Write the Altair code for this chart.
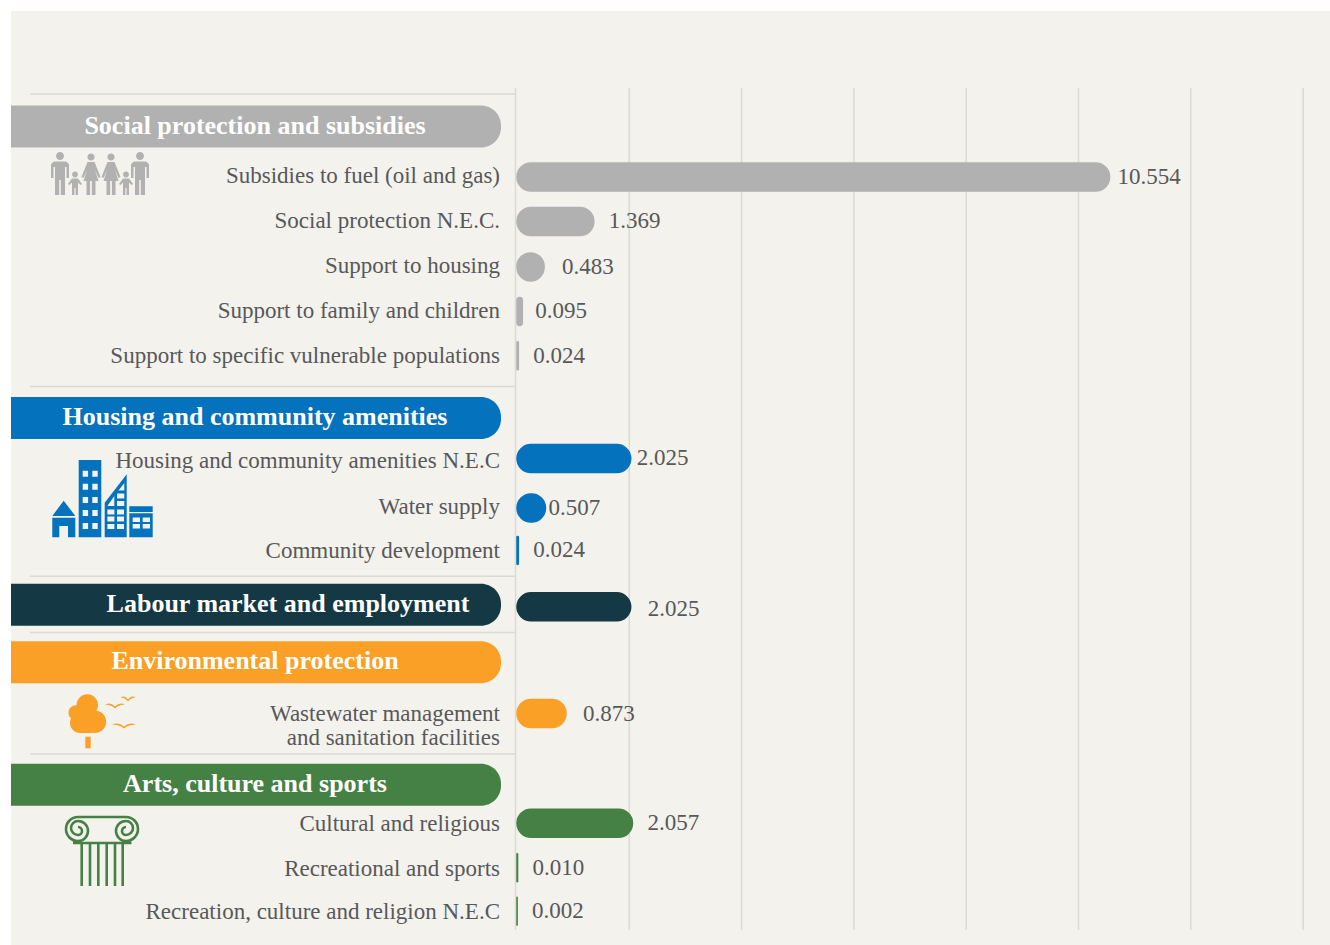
import altair as alt
import pandas as pd

# Values by spending item
groups = ["Social protection and subsidies", "Housing and community amenities",
          "Labour market and employment", "Environmental protection",
          "Arts, culture and sports"]
group_colors = ["#b1b1b1", "#0472bc", "#143844", "#faa026", "#458144"]
items = ["Subsidies to fuel (oil and gas)", "Social protection N.E.C.", "Support to housing",
         "Support to family and children", "Support to specific vulnerable populations",
         "Housing and community amenities N.E.C", "Water supply", "Community development",
         "", "Wastewater management\nand sanitation facilities",
         "Cultural and religious", "Recreational and sports", "Recreation, culture and religion N.E.C"]
item_groups = [0, 0, 0, 0, 0, 1, 1, 1, 2, 3, 4, 4, 4]
values = [10.554, 1.369, 0.483, 0.095, 0.024, 2.025, 0.507, 0.024, 2.025, 0.873, 2.057, 0.010, 0.002]
tick_values = [2, 4, 6, 8, 10, 12, 14]

# Page layout, in pixels
PAGE_W, PAGE_H = 1330, 945
PLOT_TOP, PLOT_BOTTOM = 88, 930
ZERO_X, UNIT = 517.0, 56.15
bar_rows = [173, 218, 264, 309, 354, 458, 508, 551, 608, 716, 827, 872, 916]
name_rows = [172, 218, 263, 309, 354, 460, 507, 551, 608, 716, 828, 873, 917]
value_rows = [173, 218, 264, 309, 354, 457, 508, 550, 610, 716, 827, 872, 916]
value_gaps = [8, 15, 18, 13, 15, 6, 3, 15, 17, 17, 15, 15, 15]
header_rows = [122, 417, 606, 664, 788]
rule_rows = [89, 385, 577, 634, 757]

PANEL = "#f3f2ec"
TEXT = "#58585a"
GRID = "#dbdbd6"
FONT = "Liberation Sans Narrow"

rows = pd.DataFrame({
    "item": items,
    "group": [groups[i] for i in item_groups],
    "value": values,
    "bar_y": bar_rows,
    "name_y": name_rows,
    "value_y": value_rows,
    "label_x": [v + g / UNIT for v, g in zip(values, value_gaps)],
})
headers = pd.DataFrame({"group": groups, "y": header_rows})
headers["text_x"] = [288 if g.startswith("Labour") else 255 for g in groups]
ticks = pd.DataFrame({"tick": tick_values})
seps = pd.DataFrame({"y": rule_rows})

x_scale = alt.Scale(domain=[-ZERO_X / UNIT, (PAGE_W - ZERO_X) / UNIT], range=[0, PAGE_W], nice=False, zero=False)
y_scale = alt.Scale(domain=[PLOT_TOP, PLOT_BOTTOM], range=[0, PLOT_BOTTOM - PLOT_TOP], nice=False, zero=False)
color = alt.Color("group:N", scale=alt.Scale(domain=groups, range=group_colors), legend=None)
h = PLOT_BOTTOM - PLOT_TOP


def y_enc(field):
    return alt.Y(f"{field}:Q", scale=y_scale, axis=None)


# Icon drawing helpers; coordinates are page pixels (the symbol scale is 1:1)
def box(x0, y0, x1, y1):
    return f"M{x0},{y0}L{x1},{y0}L{x1},{y1}L{x0},{y1}Z"


def hole(x0, y0, x1, y1):
    return f"M{x0},{y0}L{x0},{y1}L{x1},{y1}L{x1},{y0}Z"


def disc(cx, cy, r):
    return f"M{cx - r},{cy}A{r},{r} 0 1 1 {cx + r},{cy}A{r},{r} 0 1 1 {cx - r},{cy}Z"


def poly(*pts):
    return "M" + "L".join(f"{a},{b}" for a, b in pts) + "Z"


def man(cx):
    return (disc(cx, 156, 4) + poly((cx - 6, 161.5), (cx + 6, 161.5), (cx + 9, 164), (cx + 9, 178),
                                    (cx + 6.5, 178), (cx + 6.5, 167), (cx + 5, 167), (cx + 5, 195),
                                    (cx + 0.8, 195), (cx + 0.8, 180), (cx - 0.8, 180), (cx - 0.8, 195),
                                    (cx - 5, 195), (cx - 5, 167), (cx - 6.5, 167), (cx - 6.5, 178),
                                    (cx - 9, 178), (cx - 9, 164)))


def woman(cx):
    return (disc(cx, 157, 3.6) + poly((cx - 3.5, 162), (cx + 3.5, 162), (cx + 9.5, 177), (cx + 7.5, 178),
                                      (cx + 4, 170), (cx + 7.5, 181), (cx + 4.5, 181), (cx + 4.5, 195),
                                      (cx + 0.9, 195), (cx + 0.9, 181), (cx - 0.9, 181), (cx - 0.9, 195),
                                      (cx - 4.5, 195), (cx - 4.5, 181), (cx - 7.5, 181), (cx - 4, 170),
                                      (cx - 7.5, 178), (cx - 9.5, 177)))


def kid(cx):
    return (disc(cx, 174.5, 2.9) + poly((cx - 3, 178.5), (cx + 3, 178.5), (cx + 7, 184), (cx + 5.5, 185),
                                        (cx + 3, 182.5), (cx + 3, 195), (cx + 0.6, 195), (cx + 0.6, 188),
                                        (cx - 0.6, 188), (cx - 0.6, 195), (cx - 3, 195), (cx - 3, 182.5),
                                        (cx - 5.5, 185), (cx - 7, 184)))


family_icon = man(60) + kid(75) + woman(91) + woman(111) + kid(126) + man(140)

tower_windows = "".join(hole(a, b, a + 5.4, b + 6) for b in (470.7, 483.7, 497, 510, 523) for a in (82.7, 92.3))
mid_windows = "".join(hole(a, b, a + 7, b + 5) for b in (509.5, 516.5, 524) for a in (107.4, 117))
mid_windows += hole(117, 493.5, 124.3, 498.5) + hole(117, 501, 124.3, 506)
mid_windows += poly((107.4, 506), (114.3, 506), (114.3, 496))
mid_windows += poly((118.5, 490.5), (124.3, 490.5), (124.3, 483))
shop_windows = "".join(hole(a, b, a + 7.3, b + 4.6) for b in (517.5, 524) for a in (132.7, 142.7))
buildings_icon = (
    poly((52.3, 516), (63.7, 500.7), (75.3, 516))
    + box(52.3, 517.7, 75.3, 537.3) + hole(59.3, 526, 68, 537.3)
    + box(78.7, 460, 101.3, 537.3) + tower_windows
    + poly((104.7, 502.7), (126.7, 474.3), (126.7, 537.3), (104.7, 537.3)) + mid_windows
    + box(129.3, 506.3, 152.7, 512) + box(129.3, 513.3, 152.7, 537.3) + shop_windows
)


def bird(cx, cy, w):
    return (f"M{cx - w},{cy}Q{cx - w / 2},{cy - 3.5} {cx},{cy + 1.5}Q{cx + w / 2},{cy - 3.5} {cx + w},{cy}"
            f"Q{cx + w / 2},{cy - 1.2} {cx},{cy + 3.5}Q{cx - w / 2},{cy - 1.2} {cx - w},{cy}Z")


tree_icon = (disc(87.3, 705, 10.7) + disc(76, 712.7, 7.5) + disc(80, 723, 10) + disc(95, 721.7, 11.2)
             + box(80, 715, 92, 733) + box(85.3, 736.7, 90.7, 748.3)
             + bird(115, 705, 10) + bird(128, 698, 7.5) + bird(124, 725, 12))

column_icon = (
    "M78,817A12,12 0 0 0 78,841A10,10 0 0 0 78,821A7,7 0 0 0 78,835A4,4 0 0 0 78,827"
    "M126,817A12,12 0 0 1 126,841A10,10 0 0 1 126,821A7,7 0 0 1 126,835A4,4 0 0 1 126,827"
    "M78,817L126,817M73,843L131.5,843"
    + "".join(f"M{x},844L{x},886" for x in (81.7, 90, 98.3, 106.7, 115, 122.7))
)


def icon(path, fill):
    return (alt.Chart(pd.DataFrame({"k": [0]})).mark_point(shape=path, filled=True, fill=fill, size=4, opacity=1,
                                                           strokeWidth=0)
            .encode(x=alt.value(0), y=alt.value(-PLOT_TOP)))


column_layer = (alt.Chart(pd.DataFrame({"k": [0]}))
                .mark_point(shape=column_icon, filled=False, stroke=group_colors[4], strokeWidth=2.6, size=4, opacity=1)
                .encode(x=alt.value(0), y=alt.value(-PLOT_TOP)))

panel = (alt.Chart(pd.DataFrame({"k": [0]})).mark_rect(color=PANEL)
         .encode(x=alt.value(11), x2=alt.value(PAGE_W), y=alt.value(11 - PLOT_TOP), y2=alt.value(PAGE_H - PLOT_TOP)))

grid = (alt.Chart(ticks).mark_rule(color=GRID, strokeWidth=1.5)
        .encode(x=alt.X("tick:Q", scale=x_scale, title=None,
                        axis=alt.Axis(orient="top", values=tick_values, domain=False, ticks=False, grid=False,
                                      tickSize=0, labelPadding=25, labelOffset=-1.5, labelFont=FONT, labelFontSize=23,
                                      labelColor=TEXT, zindex=1, labelFontWeight="normal")),
                y=alt.value(0), y2=alt.value(h)))

spine = (alt.Chart(pd.DataFrame({"k": [0]})).mark_rule(color=GRID, strokeWidth=1.5)
         .encode(x=alt.value(515.5), y=alt.value(0), y2=alt.value(h)))

separators = (alt.Chart(seps).mark_rule(color=GRID, strokeWidth=1.5)
              .encode(x=alt.value(30), x2=alt.value(516), y=y_enc("y")))

pills = (alt.Chart(headers).mark_bar(height=42, cornerRadiusTopRight=20, cornerRadiusBottomRight=20)
         .encode(x=alt.value(11), x2=alt.value(501), y=y_enc("y"), color=color))

pill_text = (alt.Chart(headers)
             .mark_text(font=FONT, fontSize=26, fontWeight="bold", color="white", align="center", baseline="middle", dy=-1)
             .encode(x=alt.X("px:Q", scale=None, axis=None), y=y_enc("y"), text="group:N")
             .transform_calculate(px="datum.text_x"))

bars = (alt.Chart(rows).mark_bar(height=28, cornerRadius=14, orient="horizontal", strokeWidth=1.5)
        .encode(x=alt.X("value:Q", scale=x_scale, stack=None, axis=None), y=y_enc("bar_y"), color=color,
                stroke=alt.Stroke("group:N", scale=alt.Scale(domain=groups, range=group_colors), legend=None)))

names = (alt.Chart(rows).mark_text(font=FONT, fontSize=23, color=TEXT, align="right", baseline="middle",
                                   lineBreak="\n", lineHeight=24)
         .encode(x=alt.value(500), y=y_enc("name_y"), text="item:N"))

value_text = (alt.Chart(rows).mark_text(font=FONT, fontSize=23, color=TEXT, align="left", baseline="middle")
              .encode(x=alt.X("label_x:Q", scale=x_scale, axis=None), y=y_enc("value_y"),
                      text=alt.Text("value:Q", format=".3f")))

chart = (alt.layer(panel, grid, spine, separators, pills, pill_text, bars, names, value_text,
                   icon(family_icon, group_colors[0]), icon(buildings_icon, group_colors[1]),
                   icon(tree_icon, group_colors[3]), column_layer)
         .properties(width=PAGE_W, height=h,
                     padding={"left": 0, "right": 0, "top": PLOT_TOP, "bottom": PAGE_H - PLOT_BOTTOM},
                     autosize=alt.AutoSizeParams(type="none"), background="white")
         .configure_view(stroke=None))

chart.save("out.html", embed_options={"renderer": "svg", "actions": False})
